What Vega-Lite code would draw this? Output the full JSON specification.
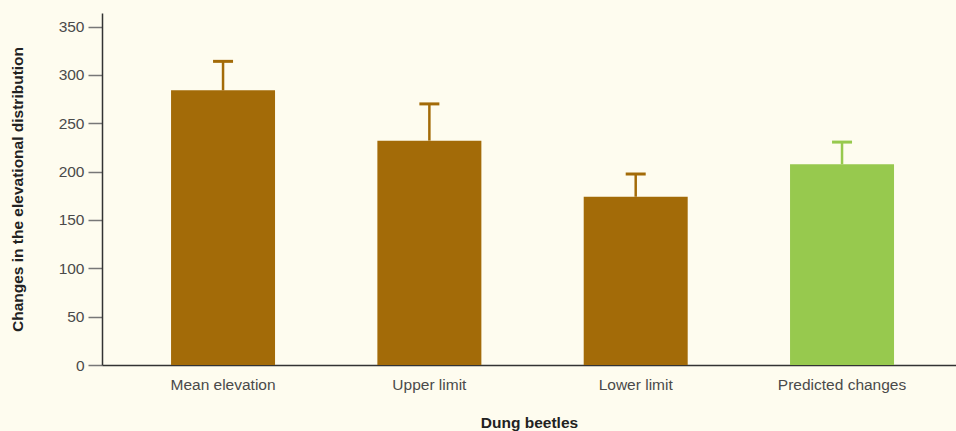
{
  "$schema": "https://vega.github.io/schema/vega-lite/v6.json",
  "autosize": "none",
  "width": 854,
  "height": 352,
  "padding": {"left": 102, "top": 13, "right": 0, "bottom": 66},
  "background": "#FEFCEF",
  "config": {
    "view": {"stroke": null},
    "font": "Liberation Sans"
  },
  "data": {
    "values": [
      {"category": "Mean elevation", "value": 284, "upper": 314, "kind": "observed"},
      {"category": "Upper limit", "value": 232, "upper": 270, "kind": "observed"},
      {"category": "Lower limit", "value": 174, "upper": 197.5, "kind": "observed"},
      {"category": "Predicted changes", "value": 207.5, "upper": 230.5, "kind": "predicted"}
    ]
  },
  "encoding": {
    "x": {
      "field": "category",
      "type": "nominal",
      "sort": null,
      "scale": {"paddingInner": 0.496, "paddingOuter": 0.3175, "align": 0.527},
      "axis": {
        "title": "Dung beetles",
        "labelAngle": 0,
        "ticks": false,
        "domainColor": "#333333",
        "domainWidth": 1.5,
        "labelFont": "Liberation Sans",
        "labelFontSize": 15.5,
        "labelColor": "#4a4a4a",
        "labelPadding": 12,
        "titleFont": "Liberation Sans",
        "titleFontSize": 15.5,
        "titleFontWeight": "bold",
        "titleColor": "#222222",
        "titlePadding": 23
      }
    },
    "color": {
      "field": "kind",
      "type": "nominal",
      "scale": {"domain": ["observed", "predicted"], "range": ["#A36B08", "#97C94E"]},
      "legend": null
    }
  },
  "layer": [
    {
      "mark": {"type": "bar", "opacity": 1},
      "encoding": {
        "y": {
          "field": "value",
          "type": "quantitative",
          "scale": {"domain": [0, 364], "nice": false},
          "axis": {
            "title": "Changes in the elevational distribution",
            "values": [0, 50, 100, 150, 200, 250, 300, 350],
            "grid": false,
            "domainColor": "#333333",
            "domainWidth": 1.5,
            "tickColor": "#777777",
            "tickSize": 14,
            "tickWidth": 1.5,
            "labelPadding": 4,
            "labelFont": "Liberation Sans",
            "labelFontSize": 15.5,
            "labelColor": "#4a4a4a",
            "titleFont": "Liberation Sans",
            "titleFontSize": 15.5,
            "titleFontWeight": "bold",
            "titleColor": "#222222",
            "titlePadding": 33
          }
        }
      }
    },
    {
      "mark": {"type": "rule", "strokeWidth": 2.5},
      "encoding": {
        "y": {"field": "value", "type": "quantitative"},
        "y2": {"field": "upper"}
      }
    },
    {
      "mark": {"type": "tick", "orient": "horizontal", "size": 20, "thickness": 3, "opacity": 1},
      "encoding": {
        "y": {"field": "upper", "type": "quantitative"}
      }
    }
  ]
}
